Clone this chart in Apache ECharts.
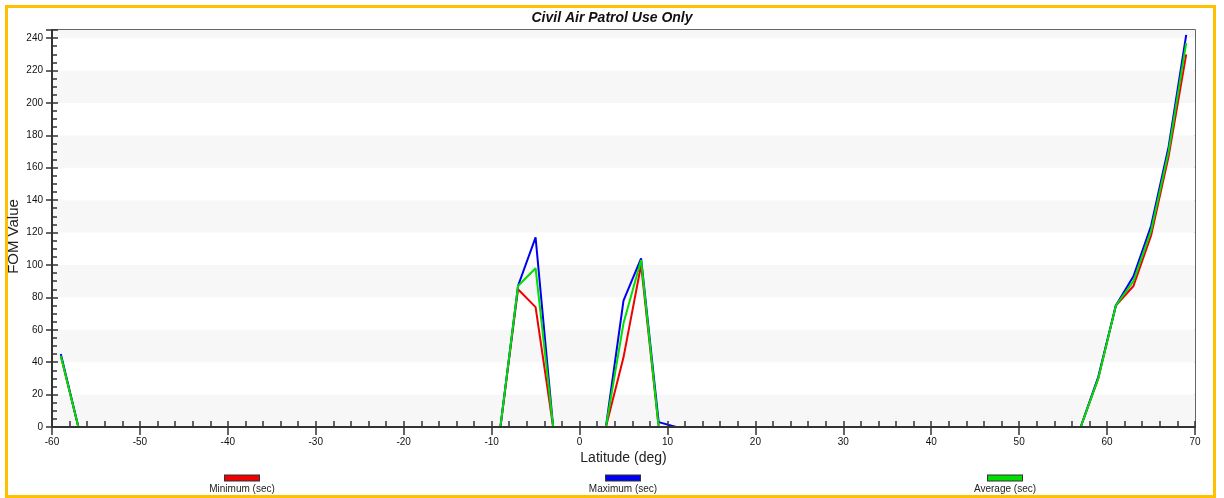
<!DOCTYPE html>
<html>
<head>
<meta charset="utf-8">
<script src="https://cdn.jsdelivr.net/npm/echarts@6/dist/echarts.min.js"></script>
<style>
  html, body { margin: 0; padding: 0; background: #fff; }
  #chart { width: 1224px; height: 498px; }
</style>
</head>
<body>
<div id="chart"></div>
<script>
// Latitude samples (deg), every 2 degrees
const latitudes = [
  -59, -57, -55, -53, -51, -49, -47, -45, -43, -41,
  -39, -37, -35, -33, -31, -29, -27, -25, -23, -21,
  -19, -17, -15, -13, -11, -9, -7, -5, -3, -1,
  1, 3, 5, 7, 9, 11, 13, 15, 17, 19,
  21, 23, 25, 27, 29, 31, 33, 35, 37, 39,
  41, 43, 45, 47, 49, 51, 53, 55, 57, 59,
  61, 63, 65, 67, 69
];

// FOM values per latitude
const minimumSec = [
  44, 0, 0, 0, 0, 0, 0, 0, 0, 0,
  0, 0, 0, 0, 0, 0, 0, 0, 0, 0,
  0, 0, 0, 0, 0, 0, 85, 74, 0, 0,
  0, 0, 43, 100, 0, 0, 0, 0, 0, 0,
  0, 0, 0, 0, 0, 0, 0, 0, 0, 0,
  0, 0, 0, 0, 0, 0, 0, 0, 0, 30,
  75, 87, 118, 167, 230
];
const maximumSec = [
  45, 0, 0, 0, 0, 0, 0, 0, 0, 0,
  0, 0, 0, 0, 0, 0, 0, 0, 0, 0,
  0, 0, 0, 0, 0, 0, 87, 117, 0, 0,
  0, 0, 78, 104, 3, 0, 0, 0, 0, 0,
  0, 0, 0, 0, 0, 0, 0, 0, 0, 0,
  0, 0, 0, 0, 0, 0, 0, 0, 0, 31,
  75, 93, 124, 173, 242
];
const averageSec = [
  44, 0, 0, 0, 0, 0, 0, 0, 0, 0,
  0, 0, 0, 0, 0, 0, 0, 0, 0, 0,
  0, 0, 0, 0, 0, 0, 87, 98, 0, 0,
  0, 0, 64, 103, 0, 0, 0, 0, 0, 0,
  0, 0, 0, 0, 0, 0, 0, 0, 0, 0,
  0, 0, 0, 0, 0, 0, 0, 0, 0, 30,
  75, 90, 121, 170, 237
];

const seriesNames = ['Minimum (sec)', 'Maximum (sec)', 'Average (sec)'];
const seriesColors = ['#f00000', '#0000f0', '#00e000'];
const seriesValues = [minimumSec, maximumSec, averageSec];
const legendCenters = [242, 623, 1005];

const FONT = '"Liberation Sans", Arial, sans-serif';
const X_MIN = -60, X_MAX = 70, X_STEP = 10;
const Y_MIN = 0, Y_MAX = 245, Y_STEP = 20;

function legendFor(i) {
  return {
    data: [seriesNames[i]],
    left: legendCenters[i] - 65,
    top: 472,
    padding: 0,
    itemWidth: 0,
    itemHeight: 0,
    icon: 'rect',
    formatter: name => '{sw|}\n{t|' + name + '}',
    textStyle: {
      fontFamily: FONT,
      rich: {
        sw: {
          width: 34, height: 5, align: 'center',
          backgroundColor: seriesColors[i],
          borderColor: '#333', borderWidth: 1
        },
        t: {
          width: 120, align: 'center', fontSize: 10, lineHeight: 12,
          color: '#222', fontFamily: FONT, padding: [5, 0, 0, 0]
        }
      }
    }
  };
}

const tickLine = { color: '#333', width: 1.5 };
const labelStyle = { fontFamily: FONT, fontSize: 10, color: '#111' };

const chart = echarts.init(document.getElementById('chart'), null, { renderer: 'canvas' });

chart.setOption({
  animation: false,
  backgroundColor: '#fff',
  title: {
    text: 'Civil Air Patrol Use Only',
    left: 'center',
    top: 11,
    padding: 0,
    textStyle: {
      fontFamily: FONT, fontSize: 14, fontWeight: 'bold',
      fontStyle: 'italic', color: '#111'
    }
  },
  graphic: [{
    type: 'rect',
    shape: { x: 6.5, y: 6.5, width: 1208, height: 490 },
    style: { fill: 'none', stroke: '#ffc000', lineWidth: 3 },
    silent: true
  }],
  legend: [legendFor(0), legendFor(1), legendFor(2)],
  grid: {
    left: 52, right: 29, top: 30, bottom: 71,
    outerBoundsMode: 'none',
    containLabel: false,
    show: true, borderColor: '#333', borderWidth: 1.5,
    backgroundColor: '#fff'
  },
  xAxis: [{
    type: 'value',
    position: 'bottom',
    min: X_MIN, max: X_MAX, interval: X_STEP,
    z: 10,
    name: 'Latitude (deg)',
    nameLocation: 'middle',
    nameGap: 24,
    nameMoveOverlap: false,
    nameTextStyle: { fontFamily: FONT, fontSize: 14, color: '#222' },
    axisLine: { onZero: false, lineStyle: { color: '#333', width: 2 } },
    axisTick: { inside: true, length: 6, lineStyle: tickLine },
    minorTick: { show: true, splitNumber: 5, length: 6, lineStyle: tickLine },
    axisLabel: Object.assign({ margin: 10 }, labelStyle),
    splitLine: { show: false }
  }, {
    // outer half of the major ticks
    type: 'value',
    position: 'bottom',
    min: X_MIN, max: X_MAX, interval: X_STEP,
    z: 10,
    axisLine: { show: false, onZero: false },
    axisTick: { inside: false, length: 8, lineStyle: tickLine },
    axisLabel: { show: false },
    splitLine: { show: false }
  }],
  yAxis: [{
    type: 'value',
    position: 'left',
    min: Y_MIN, max: Y_MAX, interval: Y_STEP,
    name: 'FOM Value',
    nameLocation: 'middle',
    nameRotate: 90,
    nameGap: 31,
    nameMoveOverlap: false,
    nameTextStyle: { fontFamily: FONT, fontSize: 15, color: '#222', padding: [0, 16, 0, 0] },
    axisLine: { show: true, onZero: false, lineStyle: { color: '#333', width: 2 } },
    axisTick: { inside: true, length: 6, lineStyle: tickLine },
    minorTick: { show: true, splitNumber: 4, length: 5, lineStyle: tickLine },
    axisLabel: Object.assign({ margin: 9, showMaxLabel: false }, labelStyle),
    splitLine: { show: false },
    splitArea: { show: true, areaStyle: { color: ['#f7f7f7', '#ffffff'] } }
  }, {
    // outer half of the major ticks
    type: 'value',
    position: 'left',
    min: Y_MIN, max: Y_MAX, interval: Y_STEP,
    axisLine: { show: false, onZero: false },
    axisTick: { show: true, inside: false, length: 6, lineStyle: tickLine },
    axisLabel: { show: false },
    splitLine: { show: false },
    splitArea: { show: false }
  }],
  series: seriesNames.map((name, i) => ({
    name: name,
    type: 'line',
    xAxisIndex: 0,
    yAxisIndex: 0,
    showSymbol: false,
    symbol: 'none',
    color: seriesColors[i],
    lineStyle: { color: seriesColors[i], width: 2 },
    emphasis: { disabled: true },
    data: latitudes.map((lat, k) => [lat, seriesValues[i][k]])
  }))
});
</script>
</body>
</html>
